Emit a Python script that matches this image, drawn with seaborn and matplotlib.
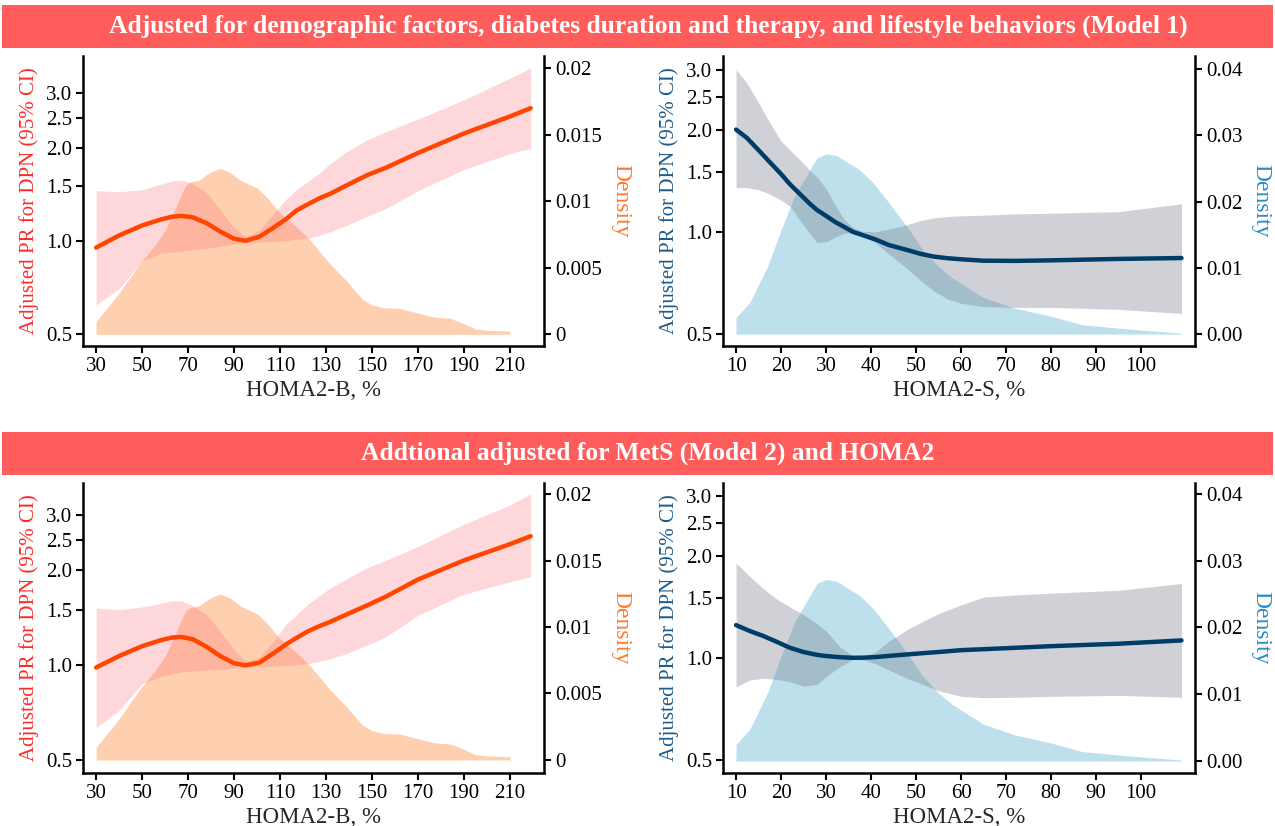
import matplotlib
matplotlib.use("Agg")
import matplotlib.pyplot as plt
import seaborn as sns
import pandas as pd
from matplotlib.patches import Rectangle
from matplotlib.ticker import NullLocator

# ---- values ----
banner_titles = [
    "Adjusted for demographic factors, diabetes duration and therapy, and lifestyle behaviors (Model 1)",
    "Addtional adjusted for MetS (Model 2) and HOMA2",
]

# HOMA2-B, Model 1
hb1_x = [30, 40, 50, 58, 63, 67, 72, 78, 84, 90, 95, 101, 107, 113, 117, 122, 127, 132, 139, 148, 156, 170, 190, 210, 219]
hb1_pr = [0.95, 1.04, 1.12, 1.17, 1.195, 1.203, 1.19, 1.14, 1.07, 1.015, 1.00, 1.03, 1.10, 1.18, 1.25, 1.31, 1.37,
          1.42, 1.51, 1.63, 1.72, 1.92, 2.22, 2.52, 2.68]
hb1_lo = [0.62, 0.70, 0.86, 0.91, 0.92, 0.925, 0.935, 0.945, 0.96, 0.975, 0.985, 0.99, 0.995, 1.0, 1.01, 1.02, 1.04,
          1.07, 1.12, 1.20, 1.27, 1.45, 1.70, 1.91, 1.99]
hb1_hi = [1.45, 1.44, 1.46, 1.52, 1.56, 1.57, 1.53, 1.43, 1.26, 1.10, 1.03, 1.08, 1.22, 1.37, 1.46, 1.55, 1.65,
          1.78, 1.94, 2.12, 2.25, 2.47, 2.85, 3.35, 3.61]

# HOMA2-B, Model 2
hb2_x = [30, 40, 50, 58, 63, 67, 72, 78, 84, 90, 95, 101, 107, 113, 117, 122, 127, 132, 139, 148, 156, 170, 190, 210, 219]
hb2_pr = [0.984, 1.07, 1.15, 1.20, 1.225, 1.23, 1.21, 1.145, 1.07, 1.015, 1.00, 1.02, 1.09, 1.17, 1.22, 1.28, 1.33,
          1.375, 1.45, 1.55, 1.65, 1.87, 2.15, 2.42, 2.565]
hb2_lo = [0.635, 0.72, 0.875, 0.92, 0.94, 0.953, 0.96, 0.965, 0.97, 0.98, 0.985, 0.99, 0.995, 1.0, 1.005, 1.013, 1.03,
          1.05, 1.09, 1.16, 1.23, 1.44, 1.68, 1.84, 1.91]
hb2_hi = [1.52, 1.50, 1.53, 1.57, 1.60, 1.60, 1.55, 1.45, 1.28, 1.12, 1.03, 1.06, 1.19, 1.36, 1.44, 1.56, 1.66,
          1.76, 1.88, 2.04, 2.15, 2.38, 2.80, 3.22, 3.49]

# HOMA2-B distribution
hb_dens_x = [30, 40, 49, 56, 60, 64, 67, 69, 71, 75, 78, 81, 84, 88, 92.6, 95.5, 100, 104, 110, 117, 123, 131.7,
             139, 146, 150, 155, 162, 170, 177, 184, 190, 195, 200, 210]
hb_dens = [0.00095, 0.0031, 0.0053, 0.0068, 0.0078, 0.0093, 0.0105, 0.0112, 0.01145, 0.0116, 0.0120, 0.0123,
           0.01248, 0.0122, 0.0116, 0.01135, 0.0110, 0.01035, 0.0091, 0.0081, 0.0071, 0.0053, 0.0040, 0.0026,
           0.0022, 0.0020, 0.00195, 0.0016, 0.0013, 0.0012, 0.0008, 0.0004, 0.0003, 0.00025]

# HOMA2-S, Model 1
hs1_x = [10, 12.4, 15, 17, 20, 22, 24, 26.4, 28, 30, 32, 34, 36, 38, 41, 44, 48, 51, 54, 57, 60, 65, 72, 80, 95, 109]
hs1_pr = [2.0, 1.89, 1.74, 1.63, 1.48, 1.38, 1.30, 1.21, 1.16, 1.115, 1.07, 1.035, 1.00, 0.98, 0.95, 0.915, 0.885,
          0.862, 0.846, 0.837, 0.831, 0.823, 0.822, 0.825, 0.833, 0.838]
hs1_lo = [1.35, 1.35, 1.33, 1.30, 1.24, 1.19, 1.09, 0.99, 0.93, 0.935, 0.965, 0.99, 0.995, 0.975, 0.93, 0.86, 0.78,
          0.72, 0.67, 0.635, 0.617, 0.603, 0.60, 0.60, 0.592, 0.576]
hs1_hi = [3.0, 2.74, 2.40, 2.15, 1.85, 1.74, 1.64, 1.52, 1.45, 1.34, 1.20, 1.09, 1.03, 1.005, 1.00, 1.02, 1.05,
          1.08, 1.10, 1.11, 1.115, 1.12, 1.13, 1.135, 1.147, 1.21]

# HOMA2-S, Model 2
hs2_x = [10, 13, 16, 19, 22, 25, 28, 30, 33, 36, 38.5, 41, 44, 48, 52, 55, 60, 65, 72, 80, 95, 109]
hs2_pr = [1.248, 1.20, 1.16, 1.115, 1.07, 1.04, 1.02, 1.012, 1.004, 1.00, 1.001, 1.005, 1.013, 1.023, 1.033, 1.04,
          1.053, 1.06, 1.07, 1.082, 1.10, 1.125]
hs2_lo = [0.82, 0.86, 0.87, 0.865, 0.85, 0.825, 0.835, 0.88, 0.94, 0.99, 0.985, 0.96, 0.92, 0.87, 0.83, 0.80, 0.77,
          0.763, 0.765, 0.77, 0.775, 0.765]
hs2_hi = [1.90, 1.74, 1.60, 1.49, 1.41, 1.34, 1.26, 1.20, 1.08, 1.01, 1.01, 1.04, 1.12, 1.21, 1.29, 1.35, 1.43,
          1.51, 1.53, 1.55, 1.58, 1.655]

# HOMA2-S distribution
hs_dens_x = [10, 13, 17, 20, 23, 26, 28, 30, 32.5, 34.5, 37.5, 40.5, 44, 48, 51.5, 55, 58, 65, 72, 80, 87, 95, 102, 109]
hs_dens = [0.0025, 0.0047, 0.0102, 0.0157, 0.0208, 0.0243, 0.0266, 0.0272, 0.0269, 0.026, 0.0248, 0.0228, 0.0198,
           0.0162, 0.0127, 0.0102, 0.0085, 0.0055, 0.0039, 0.0027, 0.0014, 0.0009, 0.0005, 0.00015]

pr_ticks = [0.5, 1.0, 1.5, 2.0, 2.5, 3.0]
hb_xticks = list(range(30, 211, 20))
hs_xticks = list(range(10, 101, 10))
hb_dticks = [0, 0.005, 0.01, 0.015, 0.02]
hb_dlabels = ["0", "0.005", "0.01", "0.015", "0.02"]
hs_dticks = [0, 0.01, 0.02, 0.03, 0.04]
hs_dlabels = ["0.00", "0.01", "0.02", "0.03", "0.04"]

sns.set_theme(style="ticks")
plt.rcParams["font.family"] = ["Liberation Serif", "DejaVu Serif"]
plt.rcParams["axes.edgecolor"] = "black"

orange = dict(line="#FF4500", ci="#F86E78", ci_a=0.27, dens="#FFD0B0",
              ylab="#FF2A2A", dlab="#FF7A30")
blue = dict(line="#003D66", ci="#6E7687", ci_a=0.33, dens="#BEE0ED",
            ylab="#1F5C8A", dlab="#2B8CC4")

W, H = 1275, 826
fig = plt.figure(figsize=(W / 100, H / 100), dpi=100)


def box(x0, y0, x1, y1):
    # pixel box (top-left origin) -> figure fraction rect
    return [x0 / W, 1 - y1 / H, (x1 - x0) / W, (y1 - y0) / H]


def panel(rect, x, pr, lo, hi, dx, dy, st, xlim, ylim, dlim, xticks, dticks, dlabels, xlabel):
    ax = fig.add_axes(rect)
    dax = ax.twinx()
    dax.fill_between(dx, 0, dy, color=st["dens"], lw=0)
    df = pd.DataFrame({"x": x, "pr": pr})
    ax.fill_between(x, lo, hi, color=st["ci"], alpha=st["ci_a"], lw=0)
    sns.lineplot(data=df, x="x", y="pr", ax=ax, color=st["line"], linewidth=3.2)
    ax.set_zorder(dax.get_zorder() + 1)
    ax.patch.set_visible(False)

    ax.set_yscale("log")
    ax.set_xlim(*xlim)
    ax.set_ylim(*ylim)
    ax.set_yticks(pr_ticks, labels=[f"{t:.1f}" for t in pr_ticks])
    ax.yaxis.set_minor_locator(NullLocator())
    ax.set_xticks(xticks)
    dax.set_ylim(*dlim)
    dax.set_yticks(dticks, labels=dlabels)

    for a in (ax, dax):
        a.spines["top"].set_visible(False)
        for s in a.spines.values():
            s.set_linewidth(1.8)
        a.tick_params(width=1.5, length=5, labelsize=15, pad=3, colors="black")
    ax.spines["right"].set_visible(False)
    dax.spines["left"].set_visible(False)
    dax.spines["bottom"].set_visible(False)

    ax.set_xlabel(xlabel, fontsize=16.5, labelpad=3)
    ax.set_ylabel("Adjusted PR for DPN (95% CI)", fontsize=15, color=st["ylab"], labelpad=5)
    dax.set_ylabel("Density", fontsize=17, color=st["dlab"], rotation=270, labelpad=21)
    return ax


panel(box(83, 56, 544, 346), hb1_x, hb1_pr, hb1_lo, hb1_hi, hb_dens_x, hb_dens, orange,
      (24.3, 224.8), (0.457, 3.95), (-0.00088, 0.02092), hb_xticks, hb_dticks, hb_dlabels, "HOMA2-B, %")
panel(box(723, 56, 1195, 346), hs1_x, hs1_pr, hs1_lo, hs1_hi, hs_dens_x, hs_dens, blue,
      (7.1, 112), (0.462, 3.29), (-0.0018, 0.04196), hs_xticks, hs_dticks, hs_dlabels, "HOMA2-S, %")
panel(box(83, 483, 544, 773), hb2_x, hb2_pr, hb2_lo, hb2_hi, hb_dens_x, hb_dens, orange,
      (24.3, 224.8), (0.456, 3.78), (-0.00098, 0.02083), hb_xticks, hb_dticks, hb_dlabels, "HOMA2-B, %")
panel(box(723, 483, 1195, 773), hs2_x, hs2_pr, hs2_lo, hs2_hi, hs_dens_x, hs_dens, blue,
      (7.1, 112), (0.458, 3.27), (-0.0018, 0.04165), hs_xticks, hs_dticks, hs_dlabels, "HOMA2-S, %")

# title banners
for title, (y0, y1) in zip(banner_titles, [(5, 48), (432, 475)]):
    r = box(2, y0, 1273, y1)
    fig.add_artist(Rectangle((r[0], r[1]), r[2], r[3], transform=fig.transFigure,
                             facecolor="#FF5C5C", edgecolor="none"))
    fig.text(648 / W, r[1] + r[3] / 2, title, ha="center", va="center", color="white",
             fontsize=18.4, fontweight="bold")

fig.savefig("out.png", dpi=100)
